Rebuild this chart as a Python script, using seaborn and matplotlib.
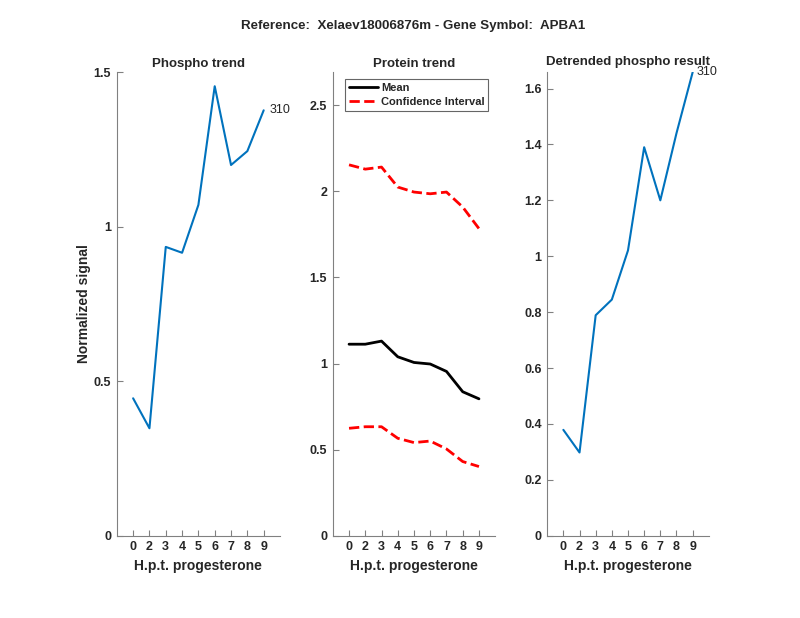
import numpy as np
import pandas as pd
import matplotlib
matplotlib.use("Agg")
import matplotlib.pyplot as plt
import seaborn as sns

sns.set_style("white")
plt.rcParams['font.family'] = ['Liberation Sans', 'DejaVu Sans']

# data
hours = ["0", "2", "3", "4", "5", "6", "7", "8", "9"]
phospho = [0.445, 0.348, 0.935, 0.916, 1.071, 1.455, 1.200, 1.245, 1.377]
protein_mean = [1.112, 1.112, 1.130, 1.039, 1.006, 0.997, 0.954, 0.836, 0.795]
protein_upper = [2.153, 2.128, 2.140, 2.024, 1.995, 1.985, 1.995, 1.908, 1.783]
protein_lower = [0.624, 0.633, 0.633, 0.566, 0.541, 0.550, 0.504, 0.431, 0.402]
detrended = [0.379, 0.298, 0.789, 0.845, 1.021, 1.390, 1.200, 1.440, 1.658]
peptide_id = "310"

pos = np.arange(1, len(hours) + 1)
blue = "#0072BD"
spine_col = "#808080"

fig = plt.figure(figsize=(8, 6.18), dpi=100)
ax1 = fig.add_axes([0.146, 0.133, 0.204, 0.750])
ax2 = fig.add_axes([0.416, 0.133, 0.203, 0.750])
ax3 = fig.add_axes([0.684, 0.133, 0.202, 0.750])

fig.suptitle("Reference:  Xelaev18006876m - Gene Symbol:  APBA1",
             fontsize=9.6, fontweight="bold", x=0.517, y=1 - 26 / 618, va="center")

# phospho trend
sns.lineplot(x=pos, y=phospho, ax=ax1, color=blue, linewidth=1.5)
ax1.annotate(peptide_id, (pos[-1], phospho[-1]), xytext=(4, 0),
             textcoords="offset points", va="center", fontsize=9)
ax1.set_ylim(0, 1.5)
ax1.set_yticks([0, 0.5, 1, 1.5])
ax1.set_yticklabels(["0", "0.5", "1", "1.5"])
ax1.set_ylabel("Normalized signal", fontsize=10, fontweight="bold", labelpad=2)
ax1.set_title("Phospho trend", fontsize=9.5, fontweight="bold", pad=4)

# protein trend
df = pd.DataFrame({"x": pos, "Mean": protein_mean,
                   "upper": protein_upper, "lower": protein_lower})
sns.lineplot(data=df, x="x", y="Mean", ax=ax2, color="black", linewidth=2, label="Mean")
sns.lineplot(data=df, x="x", y="upper", ax=ax2, color="red", linewidth=2,
             linestyle="--", label="Confidence Interval")
sns.lineplot(data=df, x="x", y="lower", ax=ax2, color="red", linewidth=2,
             linestyle="--")
ax2.set_ylim(0, 2.69)
ax2.set_yticks([0, 0.5, 1, 1.5, 2, 2.5])
ax2.set_yticklabels(["0", "0.5", "1", "1.5", "2", "2.5"])
ax2.set_ylabel("")
ax2.set_title("Protein trend", fontsize=9.5, fontweight="bold", pad=4)
leg = ax2.legend(loc="upper left", fontsize=8, frameon=True, fancybox=False,
                 borderpad=0.35, handlelength=2.6, handletextpad=0.3,
                 labelspacing=0.35, borderaxespad=0,
                 bbox_to_anchor=(0.074, 0.985))
leg.get_frame().set_edgecolor("#404040")
leg.get_frame().set_linewidth(0.8)
for t in leg.get_texts():
    t.set_fontweight("bold")

# detrended
sns.lineplot(x=pos, y=detrended, ax=ax3, color=blue, linewidth=1.5)
ax3.annotate(peptide_id, (pos[-1], detrended[-1]), xytext=(3, 0),
             textcoords="offset points", va="center", fontsize=9)
ax3.set_ylim(0, detrended[-1])
ax3.set_yticks([0, 0.2, 0.4, 0.6, 0.8, 1, 1.2, 1.4, 1.6])
ax3.set_yticklabels(["0", "0.2", "0.4", "0.6", "0.8", "1", "1.2", "1.4", "1.6"])
ax3.set_title("Detrended phospho result", fontsize=9.5, fontweight="bold", pad=5)

for ax in (ax1, ax2, ax3):
    ax.set_xlim(0, len(hours) + 1)
    ax.set_xticks(pos)
    ax.set_xticklabels(hours)
    ax.set_xlabel("H.p.t. progesterone", fontsize=10, fontweight="bold")
    for s in ("top", "right"):
        ax.spines[s].set_visible(False)
    for s in ("left", "bottom"):
        ax.spines[s].set_color(spine_col)
        ax.spines[s].set_linewidth(0.8)
    ax.tick_params(direction="in", length=4, width=0.8, color=spine_col,
                   labelsize=9, labelcolor="#262626", pad=4,
                   left=True, bottom=True)
    for lab in ax.get_xticklabels() + ax.get_yticklabels():
        lab.set_fontweight("bold")

fig.savefig("out.png", dpi=100)
